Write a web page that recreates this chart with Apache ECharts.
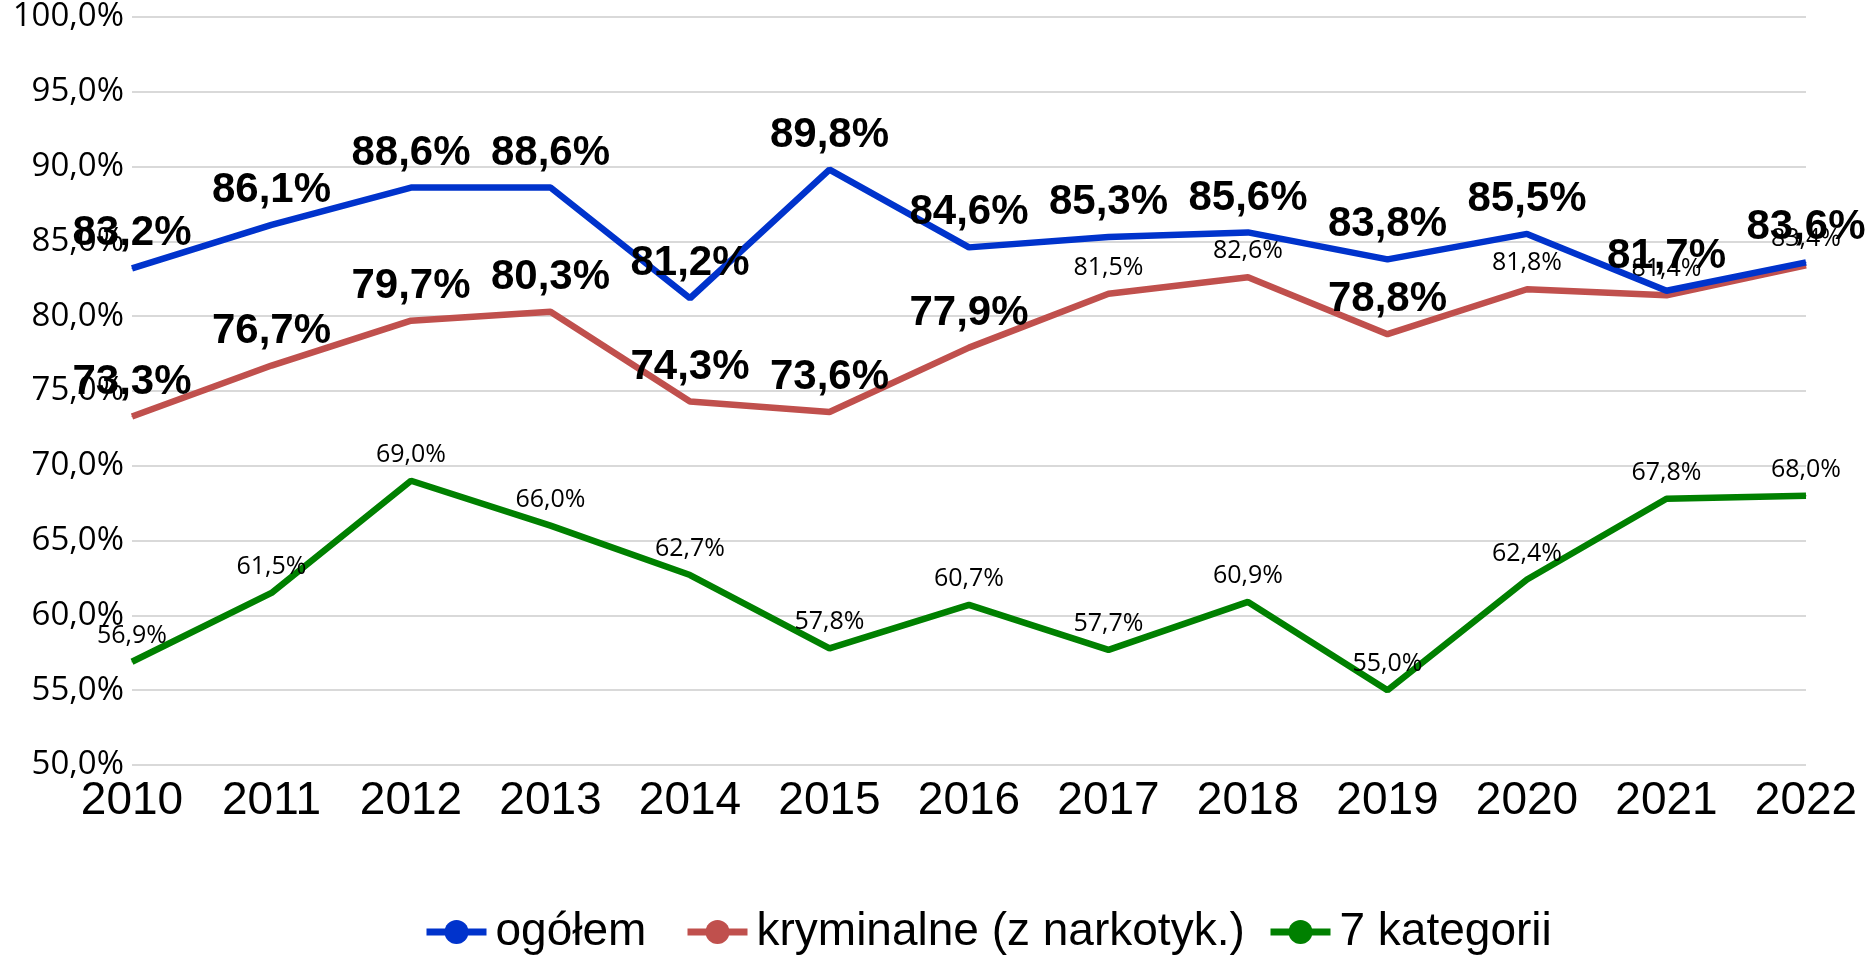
<!DOCTYPE html>
<html>
<head>
<meta charset="utf-8">
<script src="https://cdn.jsdelivr.net/npm/echarts@6/dist/echarts.min.js"></script>
<style>
html,body{margin:0;padding:0;background:#fff;}
#chart{width:1867px;height:960px;}
</style>
</head>
<body>
<div id="chart"></div>
<script>
const years = ['2010','2011','2012','2013','2014','2015','2016','2017','2018','2019','2020','2021','2022'];
const ogolem = [83.2, 86.1, 88.6, 88.6, 81.2, 89.8, 84.6, 85.3, 85.6, 83.8, 85.5, 81.7, 83.6];
const kryminalne = [73.3, 76.7, 79.7, 80.3, 74.3, 73.6, 77.9, 81.5, 82.6, 78.8, 81.8, 81.4, 83.4];
const kategorii7 = [56.9, 61.5, 69.0, 66.0, 62.7, 57.8, 60.7, 57.7, 60.9, 55.0, 62.4, 67.8, 68.0];
const seriesNames = ['ogółem', 'kryminalne (z narkotyk.)', '7 kategorii'];
// years where the "kryminalne" label is drawn small
const kryminalneSmallLabelYears = ['2017','2018','2020','2021','2022'];

const fmt = v => v.toFixed(1).replace('.', ',') + '%';

const bigLabel = {
  show: true, position: 'top', distance: 13,
  fontFamily: '"Liberation Sans", Arial, sans-serif', fontWeight: 'bold', fontSize: 42, color: '#000',
  formatter: p => fmt(p.value)
};
const smallLabel = {
  show: true, position: 'top', distance: 13,
  fontFamily: '"Open Sans", "Noto Sans", sans-serif', fontWeight: 'normal', fontSize: 25, color: '#000',
  formatter: p => fmt(p.value)
};

const redData = kryminalne.map((v, i) =>
  kryminalneSmallLabelYears.includes(years[i]) ? { value: v, label: smallLabel } : { value: v }
);

const legendLefts = [423, 684, 1267];
const legends = seriesNames.map((name, i) => ({
  left: legendLefts[i], top: 909, padding: 0,
  itemWidth: 60, itemHeight: 30,
  lineStyle: { width: 7 },
  textStyle: { fontFamily: '"Liberation Sans", Arial, sans-serif', fontSize: 46, color: '#000', padding: [0, 0, 0, 4] },
  data: [name]
}));

const chart = echarts.init(document.getElementById('chart'));
chart.setOption({
  animation: false,
  backgroundColor: '#fff',
  grid: { left: 132, right: 61, top: 17, bottom: 195 },
  legend: legends,
  xAxis: {
    type: 'category', data: years, boundaryGap: false,
    axisLine: { show: false }, axisTick: { show: false },
    axisLabel: { margin: 13, fontFamily: '"Liberation Sans", Arial, sans-serif', fontSize: 46, color: '#000' },
    splitLine: { show: false }
  },
  yAxis: {
    type: 'value', min: 50, max: 100, interval: 5,
    axisLine: { show: false }, axisTick: { show: false },
    axisLabel: { margin: 8, fontFamily: '"Open Sans", "Noto Sans", sans-serif', fontSize: 33, color: '#000',
      formatter: v => v.toFixed(1).replace('.', ',') + '%' },
    splitLine: { lineStyle: { color: '#d9d9d9', width: 2 } }
  },
  series: [
    { name: seriesNames[0], type: 'line', data: ogolem, symbol: 'circle', symbolSize: 1,
      color: '#0033cc', lineStyle: { width: 6.5, color: '#0033cc' }, itemStyle: { color: '#0033cc' },
      label: bigLabel, z: 3 },
    { name: seriesNames[1], type: 'line', data: redData, symbol: 'circle', symbolSize: 1,
      color: '#c0504d', lineStyle: { width: 6.5, color: '#c0504d' }, itemStyle: { color: '#c0504d' },
      label: bigLabel, z: 2 },
    { name: seriesNames[2], type: 'line', data: kategorii7, symbol: 'circle', symbolSize: 1,
      color: '#008000', lineStyle: { width: 6.5, color: '#008000' }, itemStyle: { color: '#008000' },
      label: smallLabel, z: 2 }
  ]
});
</script>
</body>
</html>
